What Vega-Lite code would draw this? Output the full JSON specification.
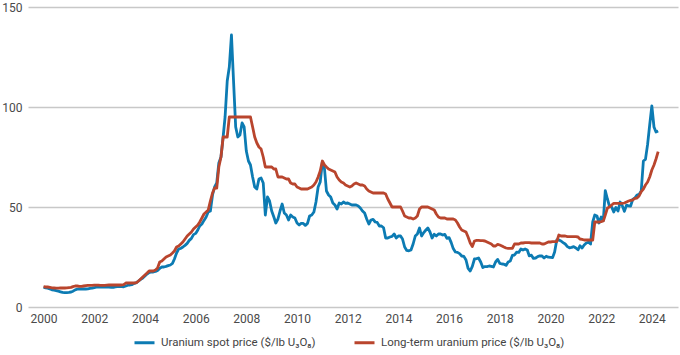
{
  "$schema": "https://vega.github.io/schema/vega-lite/v6.json",
  "width": 650,
  "height": 300,
  "autosize": {"type": "none"},
  "padding": {"left": 28, "top": 7, "right": 2, "bottom": 48},
  "config": {
    "view": {"stroke": null},
    "font": "Roboto",
    "axis": {"labelFont": "Roboto", "labelColor": "#4a4a4a", "labelFontSize": 12},
    "legend": {"labelFont": "Roboto", "labelColor": "#444444", "labelFontSize": 11.5, "labelLimit": 0}
  },
  "data": {
    "values": [
      {"d":"2000-01","spot":9.8,"lt":10.2},{"d":"2000-02","spot":9.6,"lt":10.0},{"d":"2000-03","spot":9.4,"lt":10.0},{"d":"2000-04","spot":9.0,"lt":9.8},{"d":"2000-05","spot":8.6,"lt":9.6},{"d":"2000-06","spot":8.4,"lt":9.5},{"d":"2000-07","spot":8.2,"lt":9.4},{"d":"2000-08","spot":7.9,"lt":9.4},{"d":"2000-09","spot":7.6,"lt":9.5},{"d":"2000-10","spot":7.3,"lt":9.5},{"d":"2000-11","spot":7.2,"lt":9.5},{"d":"2000-12","spot":7.2,"lt":9.6},
      {"d":"2001-01","spot":7.3,"lt":9.7},{"d":"2001-02","spot":7.5,"lt":9.8},{"d":"2001-03","spot":7.9,"lt":10.2},{"d":"2001-04","spot":8.6,"lt":10.5},{"d":"2001-05","spot":8.9,"lt":10.5},{"d":"2001-06","spot":9.0,"lt":10.3},{"d":"2001-07","spot":9.0,"lt":10.3},{"d":"2001-08","spot":9.0,"lt":10.5},{"d":"2001-09","spot":9.0,"lt":10.7},{"d":"2001-10","spot":9.1,"lt":10.8},{"d":"2001-11","spot":9.3,"lt":10.8},{"d":"2001-12","spot":9.4,"lt":10.8},
      {"d":"2002-01","spot":9.7,"lt":10.9},{"d":"2002-02","spot":9.9,"lt":10.9},{"d":"2002-03","spot":9.9,"lt":10.9},{"d":"2002-04","spot":9.9,"lt":10.8},{"d":"2002-05","spot":9.9,"lt":10.8},{"d":"2002-06","spot":9.9,"lt":10.8},{"d":"2002-07","spot":9.9,"lt":10.9},{"d":"2002-08","spot":9.9,"lt":11.0},{"d":"2002-09","spot":9.8,"lt":11.0},{"d":"2002-10","spot":9.8,"lt":11.0},{"d":"2002-11","spot":10.1,"lt":11.0},{"d":"2002-12","spot":10.2,"lt":11.0},
      {"d":"2003-01","spot":10.2,"lt":11.0},{"d":"2003-02","spot":10.2,"lt":11.0},{"d":"2003-03","spot":10.1,"lt":11.2},{"d":"2003-04","spot":10.5,"lt":12.0},{"d":"2003-05","spot":10.9,"lt":12.0},{"d":"2003-06","spot":11.0,"lt":12.0},{"d":"2003-07","spot":11.2,"lt":12.0},{"d":"2003-08","spot":11.8,"lt":12.0},{"d":"2003-09","spot":12.2,"lt":12.2},{"d":"2003-10","spot":13.0,"lt":13.0},{"d":"2003-11","spot":13.8,"lt":14.0},{"d":"2003-12","spot":14.5,"lt":15.0},
      {"d":"2004-01","spot":15.5,"lt":16.0},{"d":"2004-02","spot":16.5,"lt":17.0},{"d":"2004-03","spot":17.2,"lt":18.0},{"d":"2004-04","spot":17.5,"lt":18.0},{"d":"2004-05","spot":17.5,"lt":18.0},{"d":"2004-06","spot":17.8,"lt":18.5},{"d":"2004-07","spot":18.3,"lt":19.5},{"d":"2004-08","spot":19.3,"lt":22.5},{"d":"2004-09","spot":20.0,"lt":23.0},{"d":"2004-10","spot":20.0,"lt":24.0},{"d":"2004-11","spot":20.3,"lt":25.0},{"d":"2004-12","spot":20.7,"lt":25.5},
      {"d":"2005-01","spot":21.0,"lt":26.0},{"d":"2005-02","spot":21.8,"lt":27.0},{"d":"2005-03","spot":24.0,"lt":28.0},{"d":"2005-04","spot":27.0,"lt":30.0},{"d":"2005-05","spot":29.0,"lt":30.5},{"d":"2005-06","spot":29.3,"lt":31.5},{"d":"2005-07","spot":30.0,"lt":32.5},{"d":"2005-08","spot":30.8,"lt":34.0},{"d":"2005-09","spot":31.8,"lt":35.5},{"d":"2005-10","spot":33.3,"lt":36.5},{"d":"2005-11","spot":34.3,"lt":37.5},{"d":"2005-12","spot":36.2,"lt":39.0},
      {"d":"2006-01","spot":36.8,"lt":40.0},{"d":"2006-02","spot":38.5,"lt":41.0},{"d":"2006-03","spot":40.5,"lt":42.5},{"d":"2006-04","spot":41.5,"lt":44.5},{"d":"2006-05","spot":43.3,"lt":46.5},{"d":"2006-06","spot":45.0,"lt":47.5},{"d":"2006-07","spot":47.5,"lt":48.5},{"d":"2006-08","spot":48.0,"lt":53.0},{"d":"2006-09","spot":56.0,"lt":57.0},{"d":"2006-10","spot":60.0,"lt":59.5},{"d":"2006-11","spot":62.0,"lt":59.5},{"d":"2006-12","spot":72.0,"lt":70.0},
      {"d":"2007-01","spot":75,"lt":75},{"d":"2007-02","spot":85,"lt":85},{"d":"2007-03","spot":95,"lt":85},{"d":"2007-04","spot":113,"lt":85},{"d":"2007-05","spot":120,"lt":95},{"d":"2007-06","spot":136,"lt":95},{"d":"2007-07","spot":113,"lt":95},{"d":"2007-08","spot":90,"lt":95},{"d":"2007-09","spot":85,"lt":95},{"d":"2007-10","spot":86,"lt":95},{"d":"2007-11","spot":92,"lt":95},{"d":"2007-12","spot":90,"lt":95},
      {"d":"2008-01","spot":78,"lt":95},{"d":"2008-02","spot":73,"lt":95},{"d":"2008-03","spot":71,"lt":95},{"d":"2008-04","spot":65,"lt":90},{"d":"2008-05","spot":60,"lt":85},{"d":"2008-06","spot":59,"lt":82},{"d":"2008-07","spot":64,"lt":80},{"d":"2008-08","spot":64.5,"lt":79},{"d":"2008-09","spot":62,"lt":75},{"d":"2008-10","spot":46,"lt":70},{"d":"2008-11","spot":55,"lt":70},{"d":"2008-12","spot":53,"lt":70},
      {"d":"2009-01","spot":48,"lt":70},{"d":"2009-02","spot":45,"lt":69},{"d":"2009-03","spot":42,"lt":69},{"d":"2009-04","spot":44,"lt":65},{"d":"2009-05","spot":48,"lt":65},{"d":"2009-06","spot":51.5,"lt":65},{"d":"2009-07","spot":47,"lt":64.5},{"d":"2009-08","spot":46,"lt":64},{"d":"2009-09","spot":43.5,"lt":64},{"d":"2009-10","spot":46,"lt":62},{"d":"2009-11","spot":45,"lt":61.5},{"d":"2009-12","spot":44.5,"lt":61.5},
      {"d":"2010-01","spot":42,"lt":60},{"d":"2010-02","spot":41,"lt":59.5},{"d":"2010-03","spot":41.8,"lt":59},{"d":"2010-04","spot":41.8,"lt":59},{"d":"2010-05","spot":40.8,"lt":59},{"d":"2010-06","spot":41.8,"lt":59},{"d":"2010-07","spot":45.5,"lt":59.5},{"d":"2010-08","spot":46,"lt":60},{"d":"2010-09","spot":47.5,"lt":61},{"d":"2010-10","spot":52.5,"lt":62.5},{"d":"2010-11","spot":60,"lt":65},{"d":"2010-12","spot":62.5,"lt":68},
      {"d":"2011-01","spot":72.5,"lt":73},{"d":"2011-02","spot":69,"lt":71},{"d":"2011-03","spot":58,"lt":70},{"d":"2011-04","spot":56,"lt":69},{"d":"2011-05","spot":55,"lt":68.5},{"d":"2011-06","spot":52,"lt":68},{"d":"2011-07","spot":51,"lt":67.5},{"d":"2011-08","spot":49,"lt":65},{"d":"2011-09","spot":52,"lt":63.5},{"d":"2011-10","spot":51.5,"lt":62.5},{"d":"2011-11","spot":52.5,"lt":62},{"d":"2011-12","spot":51.8,"lt":61},
      {"d":"2012-01","spot":52,"lt":60.5},{"d":"2012-02","spot":51.5,"lt":60},{"d":"2012-03","spot":51,"lt":60.5},{"d":"2012-04","spot":51.1,"lt":61.5},{"d":"2012-05","spot":51,"lt":62},{"d":"2012-06","spot":50.5,"lt":61.5},{"d":"2012-07","spot":49.5,"lt":61},{"d":"2012-08","spot":48,"lt":61},{"d":"2012-09","spot":47,"lt":60.5},{"d":"2012-10","spot":44,"lt":59},{"d":"2012-11","spot":41.5,"lt":58},{"d":"2012-12","spot":43.5,"lt":57.5},
      {"d":"2013-01","spot":43.8,"lt":57},{"d":"2013-02","spot":42.5,"lt":57},{"d":"2013-03","spot":42.3,"lt":57},{"d":"2013-04","spot":40.5,"lt":57},{"d":"2013-05","spot":40.5,"lt":57},{"d":"2013-06","spot":39.6,"lt":57},{"d":"2013-07","spot":34.5,"lt":56.5},{"d":"2013-08","spot":34.5,"lt":54},{"d":"2013-09","spot":35,"lt":52},{"d":"2013-10","spot":35.3,"lt":50},{"d":"2013-11","spot":36.5,"lt":50},{"d":"2013-12","spot":34.5,"lt":50},
      {"d":"2014-01","spot":35.5,"lt":50},{"d":"2014-02","spot":35.5,"lt":50},{"d":"2014-03","spot":34,"lt":48},{"d":"2014-04","spot":30,"lt":45.5},{"d":"2014-05","spot":28.3,"lt":45},{"d":"2014-06","spot":28.1,"lt":44.5},{"d":"2014-07","spot":28.5,"lt":44.5},{"d":"2014-08","spot":31.5,"lt":44},{"d":"2014-09","spot":35.5,"lt":44.5},{"d":"2014-10","spot":36.5,"lt":45.5},{"d":"2014-11","spot":39.5,"lt":49},{"d":"2014-12","spot":35.5,"lt":50},
      {"d":"2015-01","spot":37.2,"lt":50},{"d":"2015-02","spot":38.5,"lt":50},{"d":"2015-03","spot":39.5,"lt":50},{"d":"2015-04","spot":37.5,"lt":49.5},{"d":"2015-05","spot":34.5,"lt":49},{"d":"2015-06","spot":36.4,"lt":48.5},{"d":"2015-07","spot":35.5,"lt":46.5},{"d":"2015-08","spot":36.5,"lt":45},{"d":"2015-09","spot":36.5,"lt":44.5},{"d":"2015-10","spot":36,"lt":44.5},{"d":"2015-11","spot":36.3,"lt":44.5},{"d":"2015-12","spot":34.3,"lt":44},
      {"d":"2016-01","spot":34.7,"lt":44},{"d":"2016-02","spot":32.2,"lt":44},{"d":"2016-03","spot":29.2,"lt":44},{"d":"2016-04","spot":27.5,"lt":43.5},{"d":"2016-05","spot":27.3,"lt":42},{"d":"2016-06","spot":26.7,"lt":40},{"d":"2016-07","spot":25.5,"lt":38.5},{"d":"2016-08","spot":25.3,"lt":38},{"d":"2016-09","spot":23.5,"lt":37.5},{"d":"2016-10","spot":19.3,"lt":35},{"d":"2016-11","spot":18,"lt":32},{"d":"2016-12","spot":20.3,"lt":30.2},
      {"d":"2017-01","spot":24,"lt":33},{"d":"2017-02","spot":24.2,"lt":33.3},{"d":"2017-03","spot":24.5,"lt":33.3},{"d":"2017-04","spot":22.5,"lt":33.2},{"d":"2017-05","spot":19.7,"lt":33.2},{"d":"2017-06","spot":20.2,"lt":33},{"d":"2017-07","spot":20.2,"lt":32.5},{"d":"2017-08","spot":20.5,"lt":32},{"d":"2017-09","spot":20.3,"lt":31.5},{"d":"2017-10","spot":20,"lt":30.5},{"d":"2017-11","spot":22.5,"lt":30.5},{"d":"2017-12","spot":23.8,"lt":31.3},
      {"d":"2018-01","spot":21.8,"lt":31},{"d":"2018-02","spot":21.5,"lt":30.5},{"d":"2018-03","spot":21.4,"lt":30},{"d":"2018-04","spot":20.8,"lt":29.5},{"d":"2018-05","spot":22.5,"lt":29.3},{"d":"2018-06","spot":23,"lt":29.3},{"d":"2018-07","spot":25.8,"lt":29.3},{"d":"2018-08","spot":26,"lt":31.5},{"d":"2018-09","spot":27.4,"lt":31.5},{"d":"2018-10","spot":27.3,"lt":31.5},{"d":"2018-11","spot":29,"lt":32},{"d":"2018-12","spot":28.5,"lt":32},
      {"d":"2019-01","spot":29,"lt":32.2},{"d":"2019-02","spot":28.5,"lt":32.2},{"d":"2019-03","spot":25.6,"lt":32.2},{"d":"2019-04","spot":25.9,"lt":32},{"d":"2019-05","spot":24.3,"lt":32},{"d":"2019-06","spot":24.5,"lt":32},{"d":"2019-07","spot":25.2,"lt":32},{"d":"2019-08","spot":25.6,"lt":32},{"d":"2019-09","spot":25.5,"lt":31.5},{"d":"2019-10","spot":24.5,"lt":31.5},{"d":"2019-11","spot":25.4,"lt":32},{"d":"2019-12","spot":24.9,"lt":32.5},
      {"d":"2020-01","spot":24.8,"lt":32.5},{"d":"2020-02","spot":24.7,"lt":32.7},{"d":"2020-03","spot":27.5,"lt":32.7},{"d":"2020-04","spot":33.5,"lt":32.7},{"d":"2020-05","spot":33.5,"lt":36},{"d":"2020-06","spot":33,"lt":35.5},{"d":"2020-07","spot":32.2,"lt":35.5},{"d":"2020-08","spot":31.5,"lt":35.5},{"d":"2020-09","spot":30.2,"lt":35.2},{"d":"2020-10","spot":29.6,"lt":35.2},{"d":"2020-11","spot":29.8,"lt":35.2},{"d":"2020-12","spot":30.2,"lt":35.2},
      {"d":"2021-01","spot":29.5,"lt":35.2},{"d":"2021-02","spot":28.6,"lt":35},{"d":"2021-03","spot":30.6,"lt":34},{"d":"2021-04","spot":29.5,"lt":33.8},{"d":"2021-05","spot":31,"lt":33.5},{"d":"2021-06","spot":32,"lt":33.5},{"d":"2021-07","spot":32.4,"lt":33.5},{"d":"2021-08","spot":31.5,"lt":33.5},{"d":"2021-09","spot":42.5,"lt":33.5},{"d":"2021-10","spot":46,"lt":42.5},{"d":"2021-11","spot":45.5,"lt":42.5},{"d":"2021-12","spot":42,"lt":42.5},
      {"d":"2022-01","spot":45,"lt":42.7},{"d":"2022-02","spot":43.3,"lt":43},{"d":"2022-03","spot":58.2,"lt":46},{"d":"2022-04","spot":54,"lt":49.5},{"d":"2022-05","spot":50.3,"lt":50},{"d":"2022-06","spot":50,"lt":51},{"d":"2022-07","spot":47.5,"lt":51.8},{"d":"2022-08","spot":49.8,"lt":51.8},{"d":"2022-09","spot":48,"lt":51.8},{"d":"2022-10","spot":52.5,"lt":51.8},{"d":"2022-11","spot":50.7,"lt":51.8},{"d":"2022-12","spot":47.8,"lt":52},
      {"d":"2023-01","spot":50.9,"lt":52.5},{"d":"2023-02","spot":50.6,"lt":53},{"d":"2023-03","spot":50.5,"lt":53.3},{"d":"2023-04","spot":53.8,"lt":53.5},{"d":"2023-05","spot":54.5,"lt":54.3},{"d":"2023-06","spot":56,"lt":54.5},{"d":"2023-07","spot":56.3,"lt":55.5},{"d":"2023-08","spot":58,"lt":57.7},{"d":"2023-09","spot":73,"lt":59},{"d":"2023-10","spot":73.8,"lt":61},{"d":"2023-11","spot":81.3,"lt":62.5},{"d":"2023-12","spot":91,"lt":65},
      {"d":"2024-01","spot":100.5,"lt":68.5},{"d":"2024-02","spot":90,"lt":71},{"d":"2024-03","spot":87.5,"lt":74},{"d":"2024-04","spot":88,"lt":77.7}
    ]
  },
  "transform": [{"fold": ["spot", "lt"], "as": ["series", "price"]}],
  "mark": {"type": "line", "strokeWidth": 2.8, "strokeJoin": "round", "strokeCap": "butt"},
  "encoding": {
    "x": {
      "field": "d",
      "type": "temporal",
      "scale": {"type": "utc", "domain": [{"year": 1999, "month": 5, "date": 22, "utc": true}, {"year": 2025, "month": 1, "date": 12, "utc": true}]},
      "axis": {"title": null, "format": "%Y", "tickCount": {"interval": "year", "step": 2}, "grid": false, "domain": false, "ticks": false, "tickSize": 0, "labelPadding": 6, "labelFlush": false, "labelOverlap": false}
    },
    "y": {
      "field": "price",
      "type": "quantitative",
      "scale": {"domain": [0, 150], "nice": false},
      "axis": {"title": null, "values": [0, 50, 100, 150], "domain": false, "ticks": false, "tickSize": 0, "labelPadding": 6, "grid": true, "gridColor": "#c8c8c8", "gridWidth": 1.5}
    },
    "color": {
      "field": "series",
      "type": "nominal",
      "scale": {"domain": ["spot", "lt"], "range": ["#0c7bb3", "#b9452d"]},
      "legend": {
        "title": null,
        "orient": "none",
        "direction": "horizontal",
        "legendX": 105,
        "legendY": 324,
        "symbolType": "stroke",
        "symbolSize": 400,
        "symbolStrokeWidth": 3,
        "labelOffset": 5,
        "labelLimit": 0,
        "columnPadding": 32,
        "padding": 0,
        "labelExpr": "datum.value == 'spot' ? 'Uranium spot price ($/lb U₃O₈)' : 'Long-term uranium price ($/lb U₃O₈)'"
      }
    }
  }
}
